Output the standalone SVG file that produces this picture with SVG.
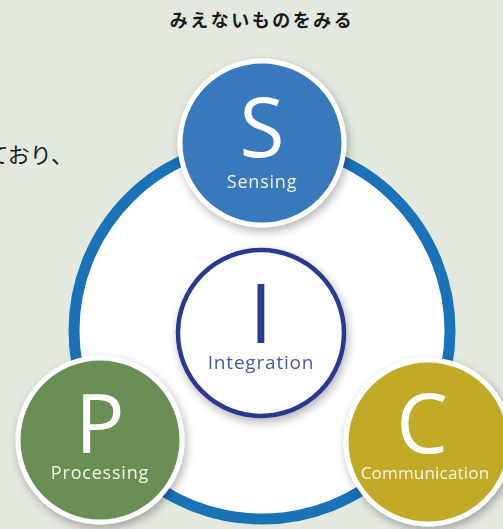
<svg xmlns="http://www.w3.org/2000/svg" width="503" height="529" viewBox="0 0 503 529">
  <defs>
    <filter id="shadow" x="-30%" y="-30%" width="160%" height="160%">
      <feGaussianBlur in="SourceAlpha" stdDeviation="5"/>
      <feOffset dx="2" dy="4" result="b"/>
      <feComponentTransfer><feFuncA type="linear" slope="0.3"/></feComponentTransfer>
      <feMerge><feMergeNode/><feMergeNode in="SourceGraphic"/></feMerge>
    </filter>
  </defs>
  <style>
    .jp { font-family: "Noto Sans CJK JP", sans-serif; fill: #1a1a1a; }
    .big { font-family: "Open Sans", "Noto Sans", sans-serif; fill: #ffffff; text-anchor: middle; font-size: 82px; }
    .lbl { font-family: "Open Sans", "Noto Sans", sans-serif; fill: #f4f4ee; text-anchor: middle; font-size: 18px; letter-spacing: 0.8px; }
    .node { stroke: #ffffff; stroke-width: 5; }
  </style>
  <rect width="503" height="529" fill="#e4e9e0"/>

  <text class="jp" x="262" y="27" font-size="18" font-weight="bold" text-anchor="middle" letter-spacing="2.5">みえないものをみる</text>
  <text class="jp" x="73" y="163" font-size="22" text-anchor="end">ており、</text>

  <!-- outer ring linking the three functions -->
  <g id="connectors">
    <circle cx="262" cy="331" r="188" fill="#ffffff" stroke="#1a72b8" stroke-width="11"/>
  </g>

  <g id="node-integration" filter="url(#shadow)">
    <circle cx="261" cy="333" r="83" fill="#ffffff" stroke="#2b3990" stroke-width="4.5"/>
    <text class="big" x="261" y="343" style="fill:#2b3990">I</text>
    <text class="lbl" x="261" y="369" style="fill:#4a59a8;font-size:19px">Integration</text>
  </g>

  <g id="node-sensing" filter="url(#shadow)">
    <circle class="node" cx="262" cy="143" r="82" fill="#3878bc"/>
    <text class="big" x="262" y="157">S</text>
    <text class="lbl" x="262" y="188">Sensing</text>
  </g>

  <g id="node-processing" filter="url(#shadow)">
    <circle class="node" cx="100" cy="440" r="82" fill="#6a8f55"/>
    <text class="big" x="100" y="453">P</text>
    <text class="lbl" x="100" y="479">Processing</text>
  </g>

  <g id="node-communication" filter="url(#shadow)">
    <circle class="node" cx="428" cy="442" r="82" fill="#c1aa28"/>
    <text class="big" x="422" y="453">C</text>
    <text class="lbl" x="425" y="479" style="letter-spacing:0.2px;font-size:17px">Communication</text>
  </g>
</svg>
